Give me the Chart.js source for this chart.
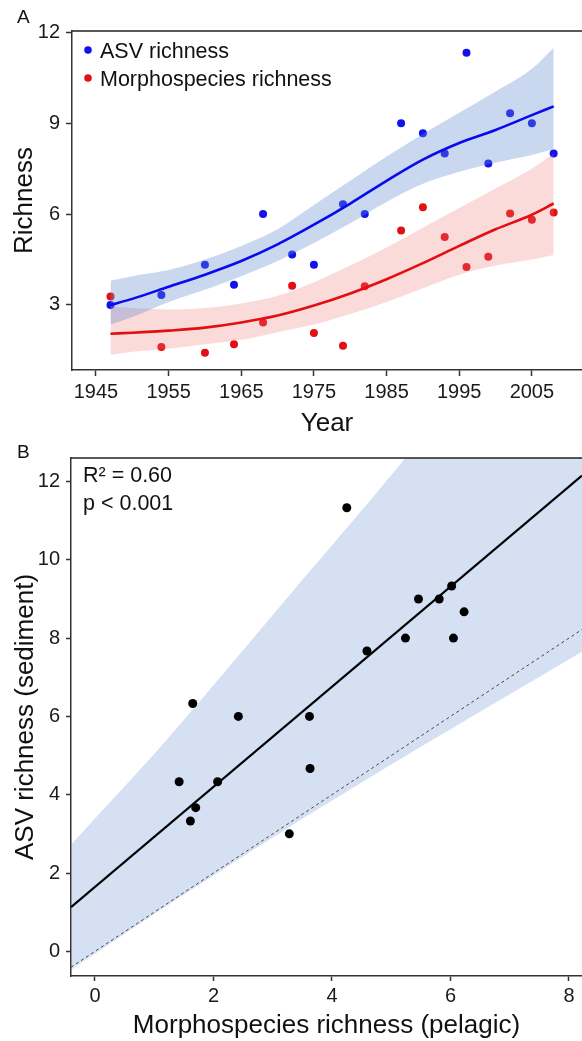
<!DOCTYPE html>
<html>
<head>
<meta charset="utf-8">
<script src="https://cdn.jsdelivr.net/npm/chart.js@4.4.1/dist/chart.umd.min.js"></script>
<style>
html,body{margin:0;padding:0;background:#fff;width:582px;height:1041px;overflow:hidden;}
canvas{position:absolute;left:0;}
#cA{top:0;}
#cB{top:440px;}
</style>
</head>
<body>
<canvas id="cA" width="582" height="440"></canvas>
<canvas id="cB" width="582" height="601"></canvas>
<script>
// ---------- data ----------
const years = [1947,1954,1960,1964,1968,1972,1975,1979,1982,1987,1990,1993,1996,1999,2002,2005,2008];
const asvRichness = [3.0,3.33,4.33,3.67,6.0,4.67,4.33,6.33,6.0,9.0,8.67,8.0,11.33,7.67,9.33,9.0,8.0];
const morphoRichness = [3.28,1.61,1.42,1.70,2.42,3.63,2.07,1.65,3.62,5.46,6.23,5.24,4.25,4.59,6.02,5.81,6.05];

const fitYears = [1947,1950,1955,1960,1965,1970,1975,1980,1985,1990,1995,2000,2005,2008];
const asvFit   = [3.0,3.2,3.6,4.0,4.45,5.0,5.65,6.35,7.1,7.8,8.35,8.78,9.27,9.56];
const asvUpper = [3.8,3.95,4.15,4.5,4.95,5.5,6.3,7.1,7.9,8.65,9.35,10.05,10.8,11.5];
const asvLower = [2.35,2.6,3.1,3.5,3.95,4.45,5.05,5.7,6.4,7.0,7.4,7.7,7.95,8.15];
const morphoFit   = [2.05,2.08,2.15,2.25,2.42,2.65,2.98,3.38,3.85,4.38,4.95,5.5,5.98,6.35];
const morphoUpper = [2.95,2.9,2.85,2.9,3.05,3.3,3.75,4.3,4.9,5.55,6.2,6.85,7.5,8.0];
const morphoLower = [1.35,1.45,1.55,1.7,1.85,2.1,2.35,2.7,3.1,3.55,4.0,4.3,4.5,4.65];

const yearTicks = [1945,1955,1965,1975,1985,1995,2005];
const richnessTicks = [3,6,9,12];
const seriesNames = ['ASV richness','Morphospecies richness'];

const regX = [-0.405, 8.22];
const regY = [1.13, 12.15];
const oneToOneX = [-0.405, 8.22];
const oneToOneY = [-0.405, 8.22];
const bandX = [-0.405, 1.15, 3.2, 5.2, 8.22];
const bandUpper = [2.72, 5.3, 8.95, 12.53, 18.3];
const bandLower = [-0.47, 1.1, 3.1, 4.95, 7.65];
const morphoTicks = [0,2,4,6,8];
const asvTicks = [0,2,4,6,8,10,12];
const statsText = ['R\u00B2 = 0.60','p < 0.001'];

// ---------- helpers ----------
const FONT = '"Liberation Sans", Arial, Helvetica, sans-serif';
const pts = (xs, ys) => xs.map((x,i)=>({x:x, y:ys[i]}));
const BLUE = 'rgb(18,18,238)';
const RED = 'rgb(226,16,20)';
const AXIS = '#333';

function axisCommon(tickVals, tickLen, pad){
  return {
    type:'linear',
    grid:{display:true, drawOnChartArea:false, drawTicks:true, tickLength:tickLen, tickColor:AXIS, tickWidth:1.5},
    border:{display:true, color:AXIS, width:1.5},
    ticks:{font:{family:FONT,size:20}, color:'#1a1a1a', padding:pad, callback:v=>String(v)},
    afterBuildTicks:s=>{ s.ticks = tickVals.map(v=>({value:v})); }
  };
}

// ---------- Panel A ----------
const overlayA = {
  id:'overlayA',
  afterDraw(chart){
    const {ctx, chartArea:a} = chart;
    ctx.save();
    ctx.strokeStyle = '#222'; ctx.lineWidth = 1.5;
    ctx.beginPath(); ctx.moveTo(a.left, a.top); ctx.lineTo(a.right, a.top); ctx.stroke();
    ctx.textBaseline = 'alphabetic'; ctx.textAlign = 'left';
    ctx.font = '21.5px ' + FONT; ctx.fillStyle = '#111';
    const cols = [BLUE, RED];
    const rows = [50, 78];
    seriesNames.forEach((n,i)=>{
      ctx.fillStyle = cols[i];
      ctx.beginPath(); ctx.arc(88, rows[i], 3.8, 0, Math.PI*2); ctx.fill();
      ctx.fillStyle = '#111';
      ctx.fillText(n, 100, rows[i]+7.5);
    });
    ctx.font = '19px ' + FONT;
    ctx.fillText('A', 17, 23);
    ctx.restore();
  }
};

const xA = axisCommon(yearTicks, 6, 4);
xA.min = 1941.7; xA.max = 2011.9;
xA.afterFit = s => { s.height = 70; s.paddingLeft = 0; s.paddingRight = 0; };
xA.title = {display:true, text:'Year', font:{family:FONT,size:26}, color:'#111', padding:{top:0,bottom:1}};
const yA = axisCommon(richnessTicks, 6, 6);
yA.min = 0.85; yA.max = 12.05;
yA.afterFit = s => { s.width = 72; };
yA.title = {display:true, text:'Richness', font:{family:FONT,size:26}, color:'#111', padding:{top:9,bottom:0}};

new Chart(document.getElementById('cA'), {
  type:'scatter',
  data:{datasets:[
    {label:seriesNames[0], data:pts(years, asvRichness), backgroundColor:BLUE, borderWidth:0, pointRadius:4, order:3},
    {label:seriesNames[1], data:pts(years, morphoRichness), backgroundColor:RED, borderWidth:0, pointRadius:4, order:3},
    {type:'line', data:pts(fitYears, asvUpper), borderWidth:0, pointRadius:0, fill:'+1', backgroundColor:'rgba(100,140,210,0.35)', cubicInterpolationMode:'monotone', order:2},
    {type:'line', data:pts(fitYears, asvLower), borderWidth:0, pointRadius:0, fill:false, cubicInterpolationMode:'monotone', order:2},
    {type:'line', data:pts(fitYears, morphoUpper), borderWidth:0, pointRadius:0, fill:'+1', backgroundColor:'rgba(240,120,120,0.27)', cubicInterpolationMode:'monotone', order:2},
    {type:'line', data:pts(fitYears, morphoLower), borderWidth:0, pointRadius:0, fill:false, cubicInterpolationMode:'monotone', order:2},
    {type:'line', data:pts(fitYears, asvFit), borderColor:'rgb(10,10,235)', borderWidth:2.6, pointRadius:0, fill:false, cubicInterpolationMode:'monotone', order:1},
    {type:'line', data:pts(fitYears, morphoFit), borderColor:'rgb(226,14,18)', borderWidth:2.6, pointRadius:0, fill:false, cubicInterpolationMode:'monotone', order:1}
  ]},
  options:{
    responsive:false, animation:false, devicePixelRatio:1,
    layout:{autoPadding:false, padding:{top:31,left:0,right:0,bottom:0}},
    plugins:{legend:{display:false}, tooltip:{enabled:false}},
    scales:{x:xA, y:yA}
  },
  plugins:[overlayA]
});

// ---------- Panel B ----------
const overlayB = {
  id:'overlayB',
  afterDraw(chart){
    const {ctx, chartArea:a} = chart;
    ctx.save();
    ctx.strokeStyle = '#222'; ctx.lineWidth = 1.5;
    ctx.beginPath(); ctx.moveTo(a.left, a.top); ctx.lineTo(a.right, a.top); ctx.stroke();
    ctx.textBaseline = 'alphabetic'; ctx.textAlign = 'left';
    ctx.fillStyle = '#111';
    ctx.font = '21.5px ' + FONT;
    ctx.fillText(statsText[0], 83, 42);
    ctx.fillText(statsText[1], 83, 70);
    ctx.font = '19px ' + FONT;
    ctx.fillText('B', 17, 18);
    ctx.restore();
  }
};

const xB = axisCommon(morphoTicks, 5, 3);
xB.min = -0.405; xB.max = 8.22;
xB.afterFit = s => { s.height = 65; s.paddingLeft = 0; s.paddingRight = 0; };
xB.title = {display:true, text:'Morphospecies richness (pelagic)', font:{family:FONT,size:26}, color:'#111', padding:{top:0,bottom:0}};
const yB = axisCommon(asvTicks, 5, 6);
yB.min = -0.63; yB.max = 12.6;
yB.afterFit = s => { s.width = 71; };
yB.title = {display:true, text:'ASV richness (sediment)', font:{family:FONT,size:26}, color:'#111', padding:{top:10,bottom:0}};

new Chart(document.getElementById('cB'), {
  type:'scatter',
  data:{datasets:[
    {type:'line', data:pts(bandX, bandUpper), borderWidth:0, pointRadius:0, fill:'+1', backgroundColor:'rgba(100,140,210,0.27)', tension:0.3, order:4},
    {type:'line', data:pts(bandX, bandLower), borderWidth:0, pointRadius:0, fill:false, tension:0.3, order:4},
    {type:'line', data:pts(oneToOneX, oneToOneY), borderColor:'#444', borderWidth:1, borderDash:[3,3], pointRadius:0, fill:false, order:3},
    {type:'line', data:pts(regX, regY), borderColor:'#000', borderWidth:2.2, pointRadius:0, fill:false, order:2},
    {data:pts(morphoRichness, asvRichness), backgroundColor:'#000', borderWidth:0, pointRadius:4.5, order:1}
  ]},
  options:{
    responsive:false, animation:false, devicePixelRatio:1,
    layout:{autoPadding:false, padding:{top:11,left:0,right:0,bottom:0}},
    plugins:{legend:{display:false}, tooltip:{enabled:false}},
    scales:{x:xB, y:yB}
  },
  plugins:[overlayB]
});
</script>
</body>
</html>
